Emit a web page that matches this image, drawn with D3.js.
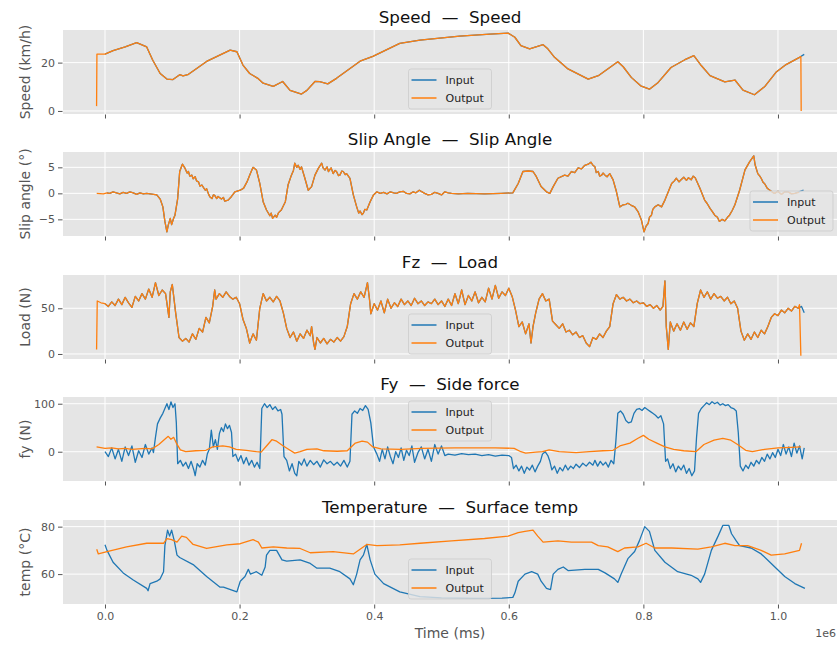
<!DOCTYPE html>
<html>
<head>
<meta charset="utf-8">
<script src="https://cdnjs.cloudflare.com/ajax/libs/d3/7.8.5/d3.min.js"></script>
<style>
  body { margin: 0; background: #fff; }
  svg { display: block; font-family: "DejaVu Sans", sans-serif; }
</style>
</head>
<body>
<svg width="837" height="645"></svg>
<script>
/* time is in units of 1e6 ms, as on the shared x axis */

var timeTicks = [0, 0.2, 0.4, 0.6, 0.8, 1.0];
var seriesNames = ["Input", "Output"];

var titles = ["Speed  \u2014  Speed", "Slip Angle  \u2014  Slip Angle", "Fz  \u2014  Load",
              "Fy  \u2014  Side force", "Temperature  \u2014  Surface temp"];
var yLabels = ["Speed (km/h)", "Slip angle (\u00b0)", "Load (N)", "fy (N)", "temp (\u00b0C)"];
var yTicks = [[0, 20], [-5, 0, 5], [0, 50], [0, 100], [60, 80]];

// speed: input and output lie on top of each other
var speedTrace = [[0.000,23.5],[0.012,25],[0.030,26.5],[0.047,28.3],[0.062,26.5],[0.071,21],[0.082,15.5],
  [0.092,13.2],[0.101,13],[0.111,15],[0.116,14.5],[0.123,15],[0.151,20.5],[0.186,25.2],[0.196,24.5],
  [0.205,19],[0.215,15.5],[0.227,13.5],[0.235,11.5],[0.250,10.2],[0.264,12.2],[0.275,8.5],[0.292,7],
  [0.300,8.5],[0.312,12.2],[0.319,12.1],[0.331,11.2],[0.344,13.5],[0.379,20.6],[0.398,22.6],[0.438,28],
  [0.468,29.3],[0.527,31],[0.572,31.8],[0.599,32.2],[0.609,30.5],[0.618,27],[0.631,25.7],[0.651,27.4],
  [0.658,25.7],[0.668,22.2],[0.688,17.4],[0.718,13.2],[0.733,14.6],[0.762,20.4],[0.770,18.3],[0.782,13.9],
  [0.796,10.4],[0.809,9],[0.822,11.8],[0.841,18],[0.861,21.1],[0.875,22.9],[0.886,18.8],[0.899,14.6],
  [0.921,12],[0.936,12.8],[0.948,8.6],[0.965,6.7],[0.980,10],[0.997,16],[1.012,19.2],[1.032,22.2]];
var speedIn = speedTrace.concat([[1.039,23.4]]);
var speedOut = [[-0.0125,2],[-0.012,23.5]].concat(speedTrace, [[1.034,22.5],[1.0345,0]]);

// slip angle
var slipTrace = [[0.003,0.1],[0.007,0],[0.012,0.3],[0.017,0.1],[0.022,-0.1],[0.027,0.2],[0.032,0],
  [0.037,0.3],[0.042,0.1],[0.047,-0.2],[0.052,0.1],[0.057,-0.1],[0.062,0],[0.067,-0.1],[0.072,-0.2],
  [0.077,-0.3],[0.082,-1.1],[0.086,-2.6],[0.089,-5.4],[0.092,-7.4],[0.094,-6.1],[0.097,-4.8],[0.099,-6],
  [0.102,-4.8],[0.104,-4.2],[0.108,-1],[0.111,4.2],[0.115,5.6],[0.119,4.8],[0.122,3.9],[0.124,4.2],
  [0.126,3.3],[0.129,3.5],[0.131,2.8],[0.134,3.2],[0.136,2.4],[0.139,2.2],[0.141,1.4],[0.144,1.6],
  [0.149,0.6],[0.151,0.9],[0.154,-0.2],[0.156,-0.7],[0.159,-1],[0.161,-0.3],[0.163,-0.4],[0.166,-1],
  [0.168,-0.6],[0.173,-1.1],[0.176,-0.8],[0.178,-1.5],[0.183,-1.3],[0.188,-0.6],[0.193,0.3],[0.201,0.6],
  [0.206,1],[0.211,2.2],[0.216,3.8],[0.220,5],[0.225,4.5],[0.230,1.9],[0.235,-1.6],[0.240,-3.2],
  [0.245,-4.3],[0.247,-3.8],[0.249,-4.8],[0.253,-4.2],[0.255,-4.6],[0.258,-3.7],[0.262,-3.2],[0.268,-1.6],
  [0.272,1.6],[0.277,3.5],[0.280,4.4],[0.282,5.8],[0.285,5],[0.287,5.4],[0.290,4.6],[0.292,5.1],
  [0.297,2.9],[0.302,0.6],[0.307,1.3],[0.312,3.5],[0.317,4.8],[0.322,5.8],[0.324,4.9],[0.327,4.5],
  [0.330,5.1],[0.332,4.2],[0.336,4.9],[0.339,3.8],[0.342,4.4],[0.344,4.2],[0.347,3.4],[0.349,3.5],
  [0.352,4.3],[0.354,4.2],[0.357,3.6],[0.359,3.8],[0.364,2.9],[0.369,-0.3],[0.374,-2.6],[0.377,-3.8],
  [0.379,-3.4],[0.382,-4.1],[0.384,-3.8],[0.386,-3.1],[0.389,-3.2],[0.394,-1.6],[0.399,-0.3],[0.404,0.3],
  [0.409,0],[0.414,0.2],[0.419,-0.1],[0.424,0.3],[0.429,0.1],[0.433,0],[0.438,0.3],[0.443,0.4],
  [0.448,0],[0.453,-0.1],[0.458,0.3],[0.462,0.1],[0.467,0.6],[0.475,0],[0.480,-0.3],[0.485,-0.2],
  [0.490,0.2],[0.495,0],[0.500,-0.3],[0.505,0.3],[0.510,0.1],[0.515,0],[0.525,-0.1],[0.539,0],
  [0.564,-0.1],[0.589,0],[0.606,0.1],[0.614,1.9],[0.621,4.2],[0.629,4.3],[0.636,4.2],[0.641,3.2],
  [0.648,1.3],[0.656,0.3],[0.661,0],[0.666,1.3],[0.673,2.9],[0.683,3.5],[0.688,3.3],[0.693,4.2],
  [0.698,4.0],[0.703,4.9],[0.708,4.7],[0.713,5.4],[0.718,5.6],[0.722,6],[0.725,5.4],[0.728,5.1],
  [0.730,4.0],[0.733,4.2],[0.735,3.3],[0.738,3.5],[0.740,3.9],[0.743,3.5],[0.746,3.2],[0.750,3.8],
  [0.755,2.6],[0.760,0.3],[0.765,-2.6],[0.770,-2.2],[0.774,-2.1],[0.777,-1.9],[0.782,-2.3],[0.787,-2.6],
  [0.792,-3.5],[0.797,-5.1],[0.801,-7.4],[0.804,-6.3],[0.807,-5.8],[0.809,-4.6],[0.812,-4.2],[0.814,-3.1],
  [0.817,-2.6],[0.822,-2.2],[0.827,-2.6],[0.832,-1.3],[0.837,0.3],[0.842,1.9],[0.846,2.4],[0.849,2.9],
  [0.853,2.2],[0.856,2.6],[0.860,3.1],[0.864,2.5],[0.867,3],[0.871,2.6],[0.874,3.3],[0.877,3],
  [0.884,1],[0.891,-1.3],[0.895,-2.0],[0.899,-2.9],[0.902,-3.4],[0.906,-4.2],[0.910,-4.6],[0.913,-5.4],
  [0.917,-5.0],[0.921,-5.3],[0.925,-4.6],[0.928,-4.2],[0.932,-3.3],[0.936,-2.2],[0.943,0.6],[0.951,4.5],
  [0.958,6.1],[0.964,7.2],[0.966,5.5],[0.970,3.8],[0.973,3.3],[0.975,2.9],[0.978,2.1],[0.980,1.9],
  [0.984,1.0],[0.988,0.6],[0.992,0.2],[0.995,0],[1.000,0.4],[1.005,-0.2],[1.010,0.3],[1.015,0.3],
  [1.020,-0.1],[1.025,0]];
var slipIn = slipTrace.concat([[1.031,0.3],[1.038,0.6]]);
var slipOut = [[-0.0123,0],[-0.0025,-0.1]].concat(slipTrace, [[1.031,0.2]]);

// vertical load
var loadTrace = [[0.000,55],[0.005,52],[0.010,57],[0.015,53],[0.020,60],[0.025,54],[0.030,62],[0.035,56],
  [0.040,51],[0.045,63],[0.050,58],[0.055,66],[0.060,60],[0.065,71],[0.070,62],[0.075,78],[0.080,64],
  [0.085,70],[0.090,66],[0.095,40],[0.097,68],[0.100,76],[0.105,45],[0.110,18],[0.115,14],[0.120,17],
  [0.125,13],[0.130,22],[0.135,16],[0.140,28],[0.145,24],[0.150,40],[0.155,34],[0.160,52],[0.163,70],
  [0.165,60],[0.170,66],[0.175,62],[0.180,68],[0.185,63],[0.190,60],[0.195,62],[0.200,55],[0.205,38],
  [0.210,28],[0.215,12],[0.220,22],[0.225,15],[0.230,50],[0.235,66],[0.240,58],[0.245,62],[0.250,57],
  [0.255,63],[0.260,58],[0.265,45],[0.270,28],[0.275,18],[0.280,24],[0.285,14],[0.290,22],[0.295,17],
  [0.300,26],[0.305,20],[0.307,30],[0.310,12],[0.312,5],[0.315,18],[0.320,12],[0.325,17],[0.330,11],
  [0.335,16],[0.340,13],[0.345,18],[0.350,14],[0.355,19],[0.360,30],[0.365,55],[0.370,66],[0.375,60],
  [0.380,68],[0.385,62],[0.390,78],[0.393,60],[0.395,44],[0.400,55],[0.405,48],[0.410,58],[0.415,45],
  [0.420,60],[0.425,50],[0.430,56],[0.435,52],[0.440,60],[0.445,54],[0.450,58],[0.455,53],[0.460,61],
  [0.465,55],[0.470,58],[0.475,53],[0.480,57],[0.485,55],[0.490,60],[0.495,54],[0.500,58],[0.505,52],
  [0.510,60],[0.515,53],[0.520,66],[0.525,55],[0.530,70],[0.535,54],[0.540,64],[0.545,58],[0.550,68],
  [0.555,56],[0.560,62],[0.565,57],[0.570,72],[0.575,60],[0.580,75],[0.585,61],[0.590,68],[0.595,64],
  [0.600,72],[0.605,63],[0.610,48],[0.615,30],[0.620,35],[0.625,22],[0.630,33],[0.633,12],[0.636,30],
  [0.640,45],[0.645,60],[0.650,66],[0.655,58],[0.660,60],[0.665,36],[0.670,32],[0.675,28],[0.680,33],
  [0.685,24],[0.690,26],[0.695,21],[0.700,24],[0.705,18],[0.710,20],[0.715,12],[0.720,8],[0.725,18],
  [0.730,16],[0.735,22],[0.740,18],[0.745,25],[0.750,30],[0.755,55],[0.760,65],[0.765,60],[0.770,62],
  [0.775,58],[0.780,60],[0.785,56],[0.790,58],[0.795,55],[0.800,56],[0.805,52],[0.810,54],[0.815,50],
  [0.820,53],[0.825,48],[0.829,52],[0.832,80],[0.834,30],[0.837,5],[0.840,35],[0.845,25],[0.850,33],
  [0.855,26],[0.860,35],[0.865,27],[0.870,34],[0.875,30],[0.880,55],[0.885,70],[0.890,62],[0.895,68],
  [0.900,60],[0.905,66],[0.910,61],[0.915,63],[0.920,58],[0.925,62],[0.930,55],[0.935,58],[0.940,50],
  [0.945,25],[0.950,15],[0.955,22],[0.960,16],[0.965,24],[0.970,18],[0.975,26],[0.980,22],[0.985,30],
  [0.990,40],[0.995,44],[1.000,42],[1.005,48],[1.010,45],[1.015,50],[1.020,47],[1.025,52],[1.030,50]];
var loadIn = loadTrace.concat([[1.035,52],[1.039,45]]);
var loadOut = [[-0.0125,5],[-0.0115,58],[-0.006,56]].concat(loadTrace, [[1.032,54],[1.034,-2]]);

// side force: measured input is noisy, model output is smooth
var fyIn = [[0.000,0],[0.005,-10],[0.010,8],[0.015,-15],[0.020,5],[0.025,-20],[0.030,10],[0.035,-8],
  [0.040,12],[0.045,-22],[0.050,2],[0.055,-12],[0.060,15],[0.065,-5],[0.070,8],[0.072,-2],[0.075,30],
  [0.078,58],[0.082,70],[0.086,80],[0.089,90],[0.092,100],[0.095,88],[0.098,104],[0.101,92],[0.104,100],
  [0.106,60],[0.108,-25],[0.112,-18],[0.116,-30],[0.120,-22],[0.124,-35],[0.128,-20],[0.132,-38],
  [0.134,-50],[0.137,-25],[0.141,-32],[0.145,-18],[0.149,-28],[0.152,-5],[0.155,5],[0.158,45],[0.161,10],
  [0.164,25],[0.167,5],[0.170,38],[0.173,50],[0.176,42],[0.179,58],[0.182,48],[0.185,55],[0.188,40],
  [0.190,-10],[0.194,-5],[0.198,-20],[0.202,-8],[0.206,-25],[0.210,-12],[0.214,-28],[0.218,-18],
  [0.222,-32],[0.226,-22],[0.230,-35],[0.233,90],[0.237,100],[0.241,92],[0.245,98],[0.249,88],[0.253,94],
  [0.257,85],[0.261,88],[0.263,78],[0.266,-10],[0.270,-18],[0.274,-40],[0.278,-25],[0.282,-45],
  [0.285,-50],[0.288,-20],[0.292,-28],[0.296,-15],[0.300,-30],[0.305,-18],[0.310,-27],[0.315,-20],
  [0.320,-32],[0.325,-17],[0.330,-25],[0.335,-20],[0.340,-28],[0.345,-22],[0.350,-30],[0.355,-18],
  [0.360,-32],[0.364,-20],[0.367,78],[0.371,85],[0.375,80],[0.379,90],[0.383,86],[0.387,96],[0.391,88],
  [0.395,60],[0.399,10],[0.404,-5],[0.408,-20],[0.412,5],[0.416,-15],[0.420,10],[0.424,-10],[0.428,-25],
  [0.432,0],[0.436,-12],[0.440,8],[0.444,-18],[0.448,3],[0.452,-8],[0.456,12],[0.460,-22],[0.465,-2],
  [0.470,10],[0.475,-15],[0.480,5],[0.485,-20],[0.490,15],[0.495,-5],[0.500,12],[0.505,-8],[0.510,-5],
  [0.520,-7],[0.530,-4],[0.540,-6],[0.550,-5],[0.560,-8],[0.570,-6],[0.580,-9],[0.590,-7],[0.600,-8],
  [0.604,-12],[0.607,-35],[0.611,-28],[0.615,-40],[0.619,-30],[0.623,-45],[0.627,-32],[0.631,-38],
  [0.635,-28],[0.639,-42],[0.643,-30],[0.647,-20],[0.650,-5],[0.654,0],[0.658,-8],[0.661,-20],
  [0.664,-38],[0.668,-30],[0.672,-45],[0.676,-33],[0.680,-40],[0.684,-28],[0.688,-38],[0.692,-30],
  [0.696,-35],[0.700,-26],[0.705,-33],[0.710,-24],[0.715,-30],[0.720,-22],[0.725,-28],[0.728,-18],
  [0.732,-30],[0.736,-20],[0.740,-28],[0.744,-22],[0.748,-32],[0.752,-18],[0.756,-25],[0.759,20],
  [0.762,80],[0.766,85],[0.770,78],[0.774,65],[0.778,60],[0.782,62],[0.786,80],[0.790,88],[0.794,90],
  [0.798,86],[0.802,92],[0.806,88],[0.810,84],[0.814,80],[0.818,76],[0.822,70],[0.826,75],[0.830,58],
  [0.833,-20],[0.836,-15],[0.840,-35],[0.844,-25],[0.848,-42],[0.852,-30],[0.856,-38],[0.860,-28],
  [0.864,-45],[0.868,-35],[0.872,-50],[0.876,-40],[0.879,30],[0.882,80],[0.886,90],[0.890,96],
  [0.894,102],[0.898,98],[0.902,104],[0.906,100],[0.910,103],[0.914,97],[0.918,100],[0.922,96],
  [0.926,98],[0.930,92],[0.934,90],[0.938,85],[0.941,40],[0.944,-30],[0.948,-40],[0.952,-28],
  [0.956,-35],[0.960,-22],[0.964,-30],[0.968,-18],[0.972,-25],[0.976,-12],[0.980,-20],[0.984,-5],
  [0.988,-15],[0.992,-2],[0.996,-12],[1.000,5],[1.004,-8],[1.008,15],[1.012,-5],[1.016,10],[1.020,-10],
  [1.024,18],[1.028,-3],[1.032,12],[1.036,-15],[1.039,8]];
var fyOut = [[-0.0125,10],[0.000,7],[0.010,8],[0.020,6],[0.030,7],[0.040,5],[0.050,6],[0.060,7],
  [0.070,6],[0.080,15],[0.088,25],[0.094,32],[0.098,26],[0.102,30],[0.106,18],[0.112,4],[0.120,0],
  [0.135,2],[0.150,3],[0.160,10],[0.175,12],[0.185,10],[0.195,5],[0.210,3],[0.225,0],[0.232,-1],
  [0.240,12],[0.248,25],[0.255,22],[0.265,12],[0.275,3],[0.282,-3],[0.290,0],[0.300,5],[0.315,6],
  [0.325,2],[0.345,1],[0.360,2],[0.372,18],[0.382,22],[0.390,20],[0.398,10],[0.410,6],[0.440,5],
  [0.470,7],[0.520,8],[0.580,8],[0.608,7],[0.618,0],[0.625,-3],[0.640,-1],[0.650,0],[0.660,4],
  [0.675,0],[0.700,-2],[0.720,0],[0.740,2],[0.755,3],[0.765,12],[0.780,18],[0.792,28],[0.800,34],
  [0.808,26],[0.820,18],[0.832,10],[0.845,5],[0.860,2],[0.878,0],[0.890,15],[0.905,24],[0.918,28],
  [0.930,24],[0.940,15],[0.952,3],[0.962,0],[0.980,5],[1.000,8],[1.020,9],[1.034,10]];

// surface temperature
var tempIn = [[0.000,72.4],[0.003,70],[0.012,65],[0.027,60.5],[0.042,57.5],[0.062,54],[0.064,53],
  [0.067,56],[0.077,57],[0.082,58],[0.087,61],[0.089,72],[0.093,78.5],[0.096,76],[0.099,78.5],
  [0.103,74],[0.107,68],[0.111,67],[0.131,64],[0.151,59],[0.171,54.5],[0.176,54.5],[0.196,52.5],
  [0.201,57],[0.208,59],[0.213,62],[0.216,60],[0.225,61],[0.233,59.5],[0.238,63],[0.240,68],
  [0.245,70],[0.255,70],[0.263,66],[0.270,65.5],[0.290,66],[0.305,64.5],[0.315,62.5],[0.334,62.5],
  [0.349,61],[0.364,58],[0.369,55.5],[0.374,60],[0.379,66],[0.384,68],[0.389,72.5],[0.394,66],
  [0.401,60],[0.414,56],[0.438,52.5],[0.468,50.5],[0.500,50],[0.550,49.8],[0.590,49.9],[0.606,50.2],
  [0.609,52],[0.614,57],[0.624,60],[0.634,61],[0.643,60],[0.648,57],[0.656,54],[0.662,53.5],
  [0.666,60],[0.673,62],[0.681,63],[0.688,61.5],[0.713,62],[0.733,62],[0.743,60.5],[0.757,58],
  [0.762,56.5],[0.767,60],[0.777,66.5],[0.787,69.5],[0.794,74],[0.802,80],[0.809,78],[0.817,70],
  [0.832,65],[0.851,61],[0.871,59.5],[0.881,58],[0.885,56.5],[0.891,60],[0.901,70],[0.911,76],
  [0.918,80.5],[0.927,80.5],[0.931,77],[0.938,74],[0.943,72],[0.960,71],[0.975,68.5],[0.990,64.5],
  [1.010,59],[1.025,56],[1.040,54]];
var tempOut = [[-0.0123,70.5],[-0.0099,68.5],[0.003,69.5],[0.032,71.5],[0.062,73],[0.087,73],
  [0.092,75],[0.099,74.5],[0.107,73.5],[0.114,76],[0.121,75.5],[0.131,72.5],[0.151,70.8],[0.181,72.3],
  [0.201,72.8],[0.220,74.5],[0.228,73.5],[0.233,71],[0.250,71.5],[0.270,71],[0.290,70.8],[0.305,69],
  [0.339,69.5],[0.369,68.5],[0.379,70.5],[0.389,72.5],[0.404,72],[0.438,72.3],[0.468,73],[0.515,74],
  [0.564,75],[0.599,76],[0.614,77.5],[0.624,78],[0.636,78.5],[0.643,76],[0.651,73.5],[0.673,74],
  [0.693,73.5],[0.723,73.5],[0.733,72],[0.747,71.5],[0.762,69.5],[0.772,71],[0.792,71.5],[0.804,73],
  [0.817,71],[0.842,71],[0.881,70.5],[0.901,71.5],[0.921,73],[0.936,72],[0.955,72],[0.975,70],
  [0.990,68],[1.010,68.5],[1.032,70],[1.035,73]];

var inputs = [speedIn, slipIn, loadIn, fyIn, tempIn];
var outputs = [speedOut, slipOut, loadOut, fyOut, tempOut];

// layout
var svg = d3.select("svg");
var left = 63;
var right = 837;
var panelTop = [30, 152, 275, 397, 520];
var panelH = 84;
var yDomains = [[-1.26, 33.5], [-8.2, 7.95], [-5.5, 86.4], [-61, 114], [47.4, 82.8]];
var legendLoc = ["lower center", "lower right", "lower center", "upper center", "lower center"];
var colors = ["#1f77b4", "#ff7f0e"];

var xScale = d3.scaleLinear()
               .domain([-0.0624, 1.0877])
               .range([left, right]);

titles.forEach(function(title, i) {
  var top = panelTop[i];
  var bottom = top + panelH;

  var yScale = d3.scaleLinear()
                 .domain(yDomains[i])
                 .range([bottom, top]);

  var g = svg.append("g");

  g.append("rect")
    .attr("x", left)
    .attr("y", top)
    .attr("width", right - left)
    .attr("height", panelH)
    .attr("fill", "#E5E5E5");

  g.selectAll(".vgrid")
    .data(timeTicks)
    .enter()
    .append("line")
      .attr("x1", d => xScale(d))
      .attr("x2", d => xScale(d))
      .attr("y1", top)
      .attr("y2", bottom)
      .attr("stroke", "#fff")
      .attr("stroke-width", 1);

  g.selectAll(".hgrid")
    .data(yTicks[i])
    .enter()
    .append("line")
      .attr("x1", left)
      .attr("x2", right)
      .attr("y1", d => yScale(d))
      .attr("y2", d => yScale(d))
      .attr("stroke", "#fff")
      .attr("stroke-width", 1);

  var yAxis = d3.axisLeft(yScale)
                .tickValues(yTicks[i])
                .tickSize(4.5)
                .tickPadding(3)
                .tickFormat(d3.format("d"));

  var xAxis = d3.axisBottom(xScale)
                .tickValues(timeTicks)
                .tickSize(4)
                .tickPadding(4)
                .tickFormat(i === 4 ? d3.format(".1f") : "");

  var ya = g.append("g")
    .attr("transform", "translate(" + (left - 0.5) + ",0)")
    .call(yAxis);

  var xa = g.append("g")
    .attr("transform", "translate(0," + (bottom + 0.5) + ")")
    .call(xAxis);

  [ya, xa].forEach(function(a) {
    a.select(".domain").remove();
    a.selectAll("line").attr("stroke", "#555");
    a.selectAll("text")
      .attr("fill", "#555")
      .style("font-size", "11px")
      .style("font-family", "DejaVu Sans, sans-serif");
  });
  ya.selectAll("text").text(d => d < 0 ? "\u2212" + Math.abs(d) : d);

  var line = d3.line()
               .x(d => xScale(d[0]))
               .y(d => yScale(d[1]));

  [inputs[i], outputs[i]].forEach(function(series, k) {
    g.append("path")
      .datum(series)
      .attr("d", line)
      .attr("fill", "none")
      .attr("stroke", colors[k])
      .attr("stroke-width", 1.3)
      .attr("stroke-linejoin", "round");
  });

  svg.append("text")
    .text(title)
    .attr("x", (left + right) / 2)
    .attr("y", top - 7.5)
    .style("text-anchor", "middle")
    .style("white-space", "pre")
    .style("font-size", "16.7px")
    .attr("fill", "#111");

  svg.append("text")
    .text(yLabels[i])
    .attr("transform", "translate(30," + (top + panelH / 2) + ") rotate(-90)")
    .style("text-anchor", "middle")
    .style("font-size", "14px")
    .attr("fill", "#555");

  // legend
  var boxW = 83, boxH = 40;
  var bx = legendLoc[i] === "lower right" ? right - 4 - boxW : (left + right) / 2 - boxW / 2;
  var by = legendLoc[i] === "upper center" ? top + 4 : bottom - 5 - boxH;
  var leg = svg.append("g")
    .attr("transform", "translate(" + bx + "," + by + ")");

  leg.append("rect")
    .attr("width", boxW)
    .attr("height", boxH)
    .attr("rx", 2.5)
    .attr("fill", "#E5E5E5")
    .attr("fill-opacity", 0.8)
    .attr("stroke", "#CCCCCC")
    .attr("stroke-opacity", 0.8);

  seriesNames.forEach(function(name, k) {
    var ry = 11 + k * 18;
    leg.append("line")
      .attr("x1", 3)
      .attr("x2", 28)
      .attr("y1", ry)
      .attr("y2", ry)
      .attr("stroke", colors[k])
      .attr("stroke-width", 1.5);
    leg.append("text")
      .text(name)
      .attr("x", 37)
      .attr("y", ry)
      .attr("dy", "0.35em")
      .style("font-size", "11px")
      .attr("fill", "#222");
  });
});

svg.append("text")
  .text("Time (ms)")
  .attr("x", (left + right) / 2)
  .attr("y", 638)
  .style("text-anchor", "middle")
  .style("font-size", "14px")
  .attr("fill", "#555");

svg.append("text")
  .text("1e6")
  .attr("x", 836)
  .attr("y", 637)
  .style("text-anchor", "end")
  .style("font-size", "11px")
  .attr("fill", "#555");
</script>
</body>
</html>
